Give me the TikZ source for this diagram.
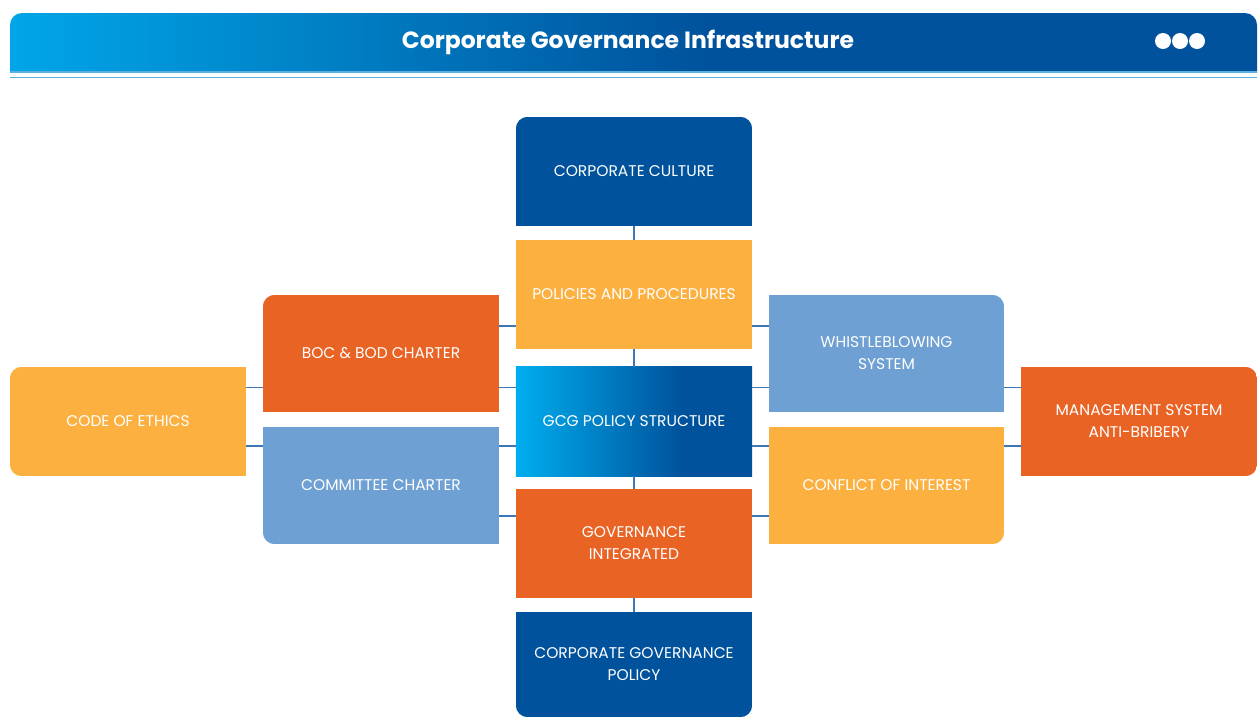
\documentclass[tikz,border=0pt]{standalone}
\usepackage{fontspec}
\setmainfont{Poppins}
\usetikzlibrary{calc}
\definecolor{cgdark}{HTML}{00529C}
\definecolor{cglight}{HTML}{00AEEF}
\definecolor{cghead}{HTML}{00A6E8}
\definecolor{cgyellow}{HTML}{FBB040}
\definecolor{cgorange}{HTML}{E96325}
\definecolor{cgsky}{HTML}{6EA0D3}
\definecolor{cgline}{HTML}{3D78B5}
\definecolor{cgstrip}{HTML}{5AAEE0}
\pgfdeclarehorizontalshading{headshade}{100bp}{color(0bp)=(cghead); color(25bp)=(cghead); color(53bp)=(cgdark); color(100bp)=(cgdark)}
\pgfdeclarehorizontalshading{gcgshade}{100bp}{color(0bp)=(cglight); color(25bp)=(cglight); color(60bp)=(cgdark); color(100bp)=(cgdark)}
\pgfdeclarelayer{bg}\pgfsetlayers{bg,main}
\newcommand\cgfill[4]{%
  \begin{pgfonlayer}{bg}
  \begin{scope}
  \clip[rounded corners=12pt] ($(#1.north west)+#3$) rectangle ($(#1.south east)+#4$);
  \fill[#2] (#1.north west) rectangle (#1.south east);
  \end{scope}
  \end{pgfonlayer}}
\tikzset{
  cgbox/.style={rectangle, inner sep=0pt, minimum width=236pt, minimum height=109pt,
    align=center, text=white, font=\fontsize{15.5}{22}\selectfont},
  tallbox/.style={cgbox, minimum height=117pt},
  link/.style={draw=cgline, line width=1.3pt}
}
\begin{document}
\begin{tikzpicture}[x=1pt,y=-1pt]
\useasboundingbox (0,0) rectangle (1259,716);
% header
\begin{scope}
  \clip (0,0) rectangle (1259,72);
  \clip[rounded corners=12pt] (10,13) rectangle (1257,100);
  \shade[shading=headshade] (10,13) rectangle (1257,72);
\end{scope}
\fill[cgstrip] (10,71) rectangle (1257,72.5);
\draw[cgstrip, line width=1pt] (10,77.5) -- (1257,77.5);
\node[text=white, font=\bfseries\fontsize{23.5}{28}\selectfont] (title) at (628,42) {Corporate Governance Infrastructure};
\foreach \i/\x in {1/1163,2/1180,3/1197}
  \node[circle, fill=white, inner sep=0pt, minimum size=16pt] (dot\i) at (\x,41) {};

% central column
\node[cgbox] (cc) at (634,171.5) {CORPORATE CULTURE};
\node[cgbox] (pp) at (634,294.5) {POLICIES AND PROCEDURES};
\node[cgbox] (gcg) at (634,421.5) {GCG POLICY STRUCTURE};
\node[cgbox] (gi) at (634,543.5) {GOVERNANCE\\INTEGRATED};
\node[cgbox, minimum height=105pt] (cgp) at (634,664.5) {CORPORATE GOVERNANCE\\POLICY};
% left
\node[tallbox] (boc) at (381,353.5) {BOC \& BOD CHARTER};
\node[tallbox] (com) at (381,485.5) {COMMITTEE CHARTER};
\node[cgbox] (coe) at (128,421.5) {CODE OF ETHICS};
% right
\node[tallbox, minimum width=235pt] (wbs) at (886.5,353.5) {WHISTLEBLOWING\\SYSTEM};
\node[tallbox, minimum width=235pt] (coi) at (886.5,485.5) {CONFLICT OF INTEREST};
\node[cgbox] (msab) at (1139,421.5) {MANAGEMENT SYSTEM\\ANTI-BRIBERY};

% fills
\cgfill{cc}{cgdark}{(0,0)}{(0,20)}
\cgfill{pp}{cgyellow}{(-20,-20)}{(20,20)}
\cgfill{gi}{cgorange}{(-20,-20)}{(20,20)}
\cgfill{cgp}{cgdark}{(0,-20)}{(0,0)}
\cgfill{boc}{cgorange}{(0,0)}{(20,20)}
\cgfill{com}{cgsky}{(0,-20)}{(20,0)}
\cgfill{coe}{cgyellow}{(0,0)}{(20,0)}
\cgfill{wbs}{cgsky}{(-20,0)}{(0,20)}
\cgfill{coi}{cgyellow}{(-20,-20)}{(0,0)}
\cgfill{msab}{cgorange}{(-20,0)}{(0,0)}
\begin{pgfonlayer}{bg}
  \shade[shading=gcgshade] (gcg.north west) rectangle (gcg.south east);
\end{pgfonlayer}

% connectors
\coordinate (ya) at (0,326);
\coordinate (yb) at (0,387.5);
\coordinate (yc) at (0,446);
\coordinate (yd) at (0,516);
\draw[link] (cc.south) -- (pp.north);
\draw[link] (pp.south) -- (gcg.north);
\draw[link] (gcg.south) -- (gi.north);
\draw[link] (gi.south) -- (cgp.north);
\draw[link] (pp.west |- ya) -- (boc.east |- ya);
\draw[link] (gcg.west |- yb) -- (boc.east |- yb);
\draw[link] (gcg.west |- yc) -- (com.east |- yc);
\draw[link] (gi.west |- yd) -- (com.east |- yd);
\draw[link] (coe.east |- yb) -- (boc.west |- yb);
\draw[link] (coe.east |- yc) -- (com.west |- yc);
\draw[link] (pp.east |- ya) -- (wbs.west |- ya);
\draw[link] (gcg.east |- yb) -- (wbs.west |- yb);
\draw[link] (gcg.east |- yc) -- (coi.west |- yc);
\draw[link] (gi.east |- yd) -- (coi.west |- yd);
\draw[link] (wbs.east |- yb) -- (msab.west |- yb);
\draw[link] (coi.east |- yc) -- (msab.west |- yc);
\end{tikzpicture}
\end{document}
